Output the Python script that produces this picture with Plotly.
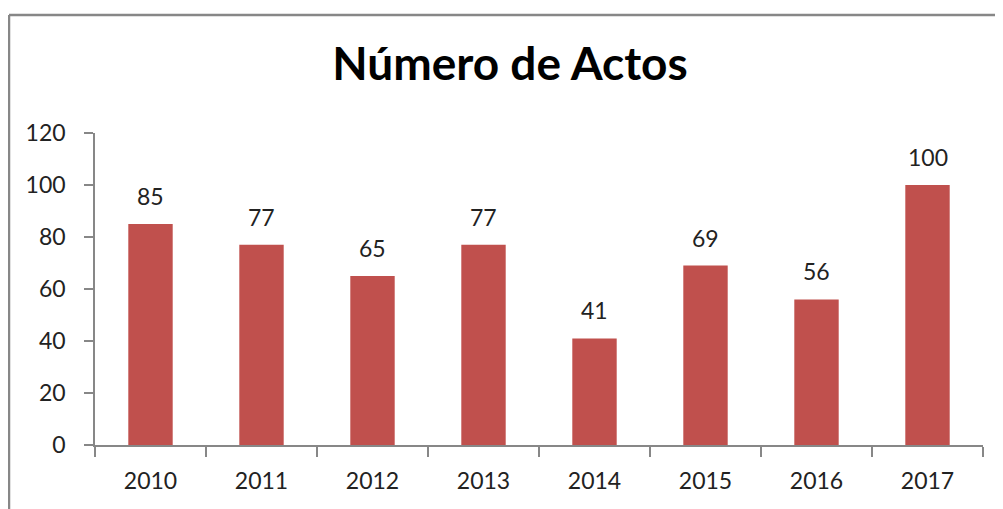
import plotly.graph_objects as go

years = ["2010", "2011", "2012", "2013", "2014", "2015", "2016", "2017"]
values = [85, 77, 65, 77, 41, 69, 56, 100]
title_text = "Número de Actos"
bar_color = "#C0504D"

# page body has an 8px margin, so the figure is sized/offset accordingly
W, H = 995, 501
ml, mr, mt, mb = 87, 20, 125, 64
pw, ph = W - ml - mr, H - mt - mb

fig = go.Figure()
fig.add_trace(go.Bar(x=years, y=values, marker=dict(color=bar_color, line=dict(width=0)),
                     width=0.4, hoverinfo="x+y"))

for i, v in enumerate(values):
    fig.add_annotation(x=i, y=v, text=str(v), showarrow=False, yanchor="bottom",
                       yshift=12, font=dict(family="Lato", size=23, color="#222222"))

# chart border (cropped frame)
bx = (1 - ml) / pw
by = (H - mb - 7) / ph
fig.add_shape(type="line", xref="paper", yref="paper", x0=bx, x1=bx, y0=-1, y1=by,
              line=dict(color="#878787", width=2.5))
fig.add_shape(type="line", xref="paper", yref="paper", x0=bx, x1=1.5, y0=by, y1=by,
              line=dict(color="#878787", width=2.5))

fig.update_layout(
    width=W, height=H,
    margin=dict(l=ml, r=mr, t=mt, b=mb),
    paper_bgcolor="white", plot_bgcolor="white",
    showlegend=False,
    title=dict(text="<b>" + title_text + "</b>", x=502 / W, xref="container", xanchor="center",
               y=(H - 56) / H, yanchor="middle",
               font=dict(family="Lato", size=46, color="#000000")),
    xaxis=dict(type="category", range=[-0.5, 7.5], showline=True, linecolor="#878787",
               linewidth=1.5, ticks="outside", tickson="boundaries", ticklen=10,
               tickcolor="#878787", tickwidth=1.5, showgrid=False, tickangle=0,
               ticklabelstandoff=15,
               tickfont=dict(family="Lato", size=23, color="#222222")),
    yaxis=dict(range=[0, 120], dtick=20, showline=True, linecolor="#878787", linewidth=1.5,
               ticks="outside", ticklen=9, tickcolor="#878787", tickwidth=1.5,
               showgrid=False, zeroline=False, ticklabelstandoff=14,
               tickfont=dict(family="Lato", size=23, color="#222222")),
)

fig.write_html("out.html")
